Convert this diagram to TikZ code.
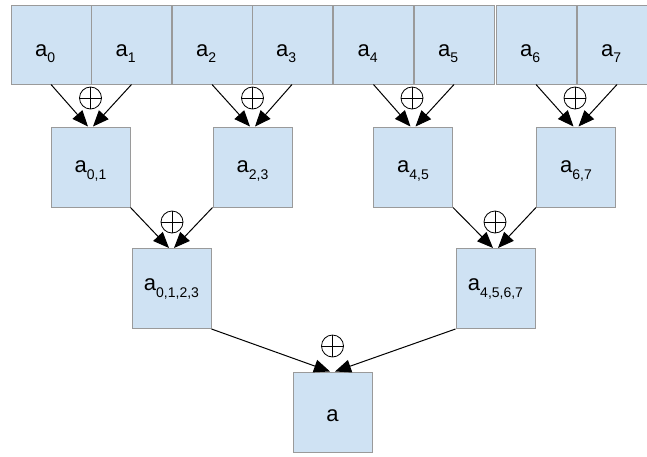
\documentclass[tikz,border=0pt]{standalone}
\usepackage{fontspec}
\setmainfont{Liberation Sans}
\usetikzlibrary{arrows.meta}
\definecolor{boxblue}{HTML}{CFE2F3}
\definecolor{boxline}{HTML}{9A9A9A}
\newcommand{\asub}[2][5pt]{\fontsize{22}{24}\selectfont a\raisebox{-#1}{\fontsize{14}{16}\selectfont #2}}
\tikzset{
  cell/.style={draw=boxline, fill=boxblue, line width=1pt, minimum width=80pt, minimum height=79pt, inner sep=0pt},
  sq/.style={draw=boxline, fill=boxblue, line width=1pt, minimum width=79pt, minimum height=80pt, inner sep=0pt},
  arr/.style={draw=black, line width=1pt, -{Triangle[length=16pt,width=13pt]}},
  oplus/.style={circle, draw=black, line width=0.8pt, fill=white, minimum size=22pt, inner sep=0pt,
    path picture={\draw[line width=0.7pt] (path picture bounding box.north) -- (path picture bounding box.south)
      (path picture bounding box.west) -- (path picture bounding box.east);}},
  lab/.style={anchor=base west, inner sep=0pt, text=black},
  labc/.style={anchor=base, inner sep=0pt, text=black}
}
\begin{document}
\begin{tikzpicture}[x=1pt,y=-1pt]
\useasboundingbox (0,0) rectangle (647,456);
% top row
\node[cell] (a0) at (51,44.5) {};
\node[cell] (a1) at (131.5,44.5) {};
\node[cell] (a2) at (212,44.5) {};
\node[cell] (a3) at (292,44.5) {};
\node[cell] (a4) at (373.5,44.5) {};
\node[cell] (a5) at (454,44.5) {};
\node[cell] (a6) at (536,44.5) {};
\node[cell] (a7) at (617,44.5) {};
\node[lab] (t0) at (35,56) {\asub[6pt]{0}};
\node[lab] (t1) at (115.5,56) {\asub[6pt]{1}};
\node[lab] (t2) at (196,56) {\asub[6pt]{2}};
\node[lab] (t3) at (276,56) {\asub[6pt]{3}};
\node[lab] (t4) at (357.5,56) {\asub[6pt]{4}};
\node[lab] (t5) at (438,56) {\asub[6pt]{5}};
\node[lab] (t6) at (520,56) {\asub[6pt]{6}};
\node[lab] (t7) at (601,56) {\asub[6pt]{7}};
% second row
\node[sq] (a01) at (90.5,167) {};
\node[sq] (a23) at (252.5,167) {};
\node[sq] (a45) at (413,167) {};
\node[sq] (a67) at (576,167) {};
\node[labc] (t01) at (90.5,172) {\asub[7pt]{0,1}};
\node[labc] (t23) at (252.5,172) {\asub[7pt]{2,3}};
\node[labc] (t45) at (413,172) {\asub[7pt]{4,5}};
\node[labc] (t67) at (576,172) {\asub[7pt]{6,7}};
% third row
\node[sq] (a0123) at (171.5,288.5) {};
\node[sq] (a4567) at (495.5,288.5) {};
\node[labc] (t0123) at (171.5,290) {\asub[7pt]{0,1,2,3}};
\node[labc] (t4567) at (495.5,290) {\asub[7pt]{4,5,6,7}};
% bottom
\node[sq] (a) at (332.5,412) {};
\node[labc] (ta) at (332.5,421) {\fontsize{22}{24}\selectfont a};
% arrows level 1
\draw[arr] (a0.south) -- ([xshift=-2.5pt]a01.north);
\draw[arr] (a1.south) -- ([xshift=2.5pt]a01.north);
\draw[arr] (a2.south) -- ([xshift=-2.5pt]a23.north);
\draw[arr] (a3.south) -- ([xshift=2.5pt]a23.north);
\draw[arr] (a4.south) -- ([xshift=-2.5pt]a45.north);
\draw[arr] (a5.south) -- ([xshift=2.5pt]a45.north);
\draw[arr] (a6.south) -- ([xshift=-2.5pt]a67.north);
\draw[arr] (a7.south) -- ([xshift=2.5pt]a67.north);
% arrows level 2
\draw[arr] (a01.south east) -- ([xshift=-2.5pt]a0123.north);
\draw[arr] (a23.south west) -- ([xshift=2.5pt]a0123.north);
\draw[arr] (a45.south east) -- ([xshift=-2.5pt]a4567.north);
\draw[arr] (a67.south west) -- ([xshift=2.5pt]a4567.north);
% arrows level 3
\draw[arr] (a0123.south east) -- ([xshift=-2.5pt]a.north);
\draw[arr] (a4567.south west) -- ([xshift=2.5pt]a.north);
% xor symbols
\node[oplus] (p01) at (90.5,98) {};
\node[oplus] (p23) at (252.5,98) {};
\node[oplus] (p45) at (412,98) {};
\node[oplus] (p67) at (575,98) {};
\node[oplus] (p0123) at (172,222) {};
\node[oplus] (p4567) at (495,222) {};
\node[oplus] (pa) at (332.5,346) {};
\end{tikzpicture}
\end{document}
